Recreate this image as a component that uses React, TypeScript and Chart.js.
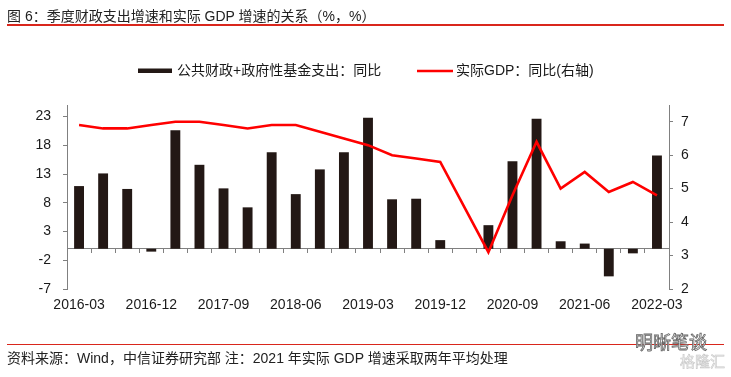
import React, { useEffect, useRef } from "react";
import { Chart, registerables } from "chart.js";

Chart.register(...registerables);

// ---- data ----
const quarters = [
  "2016-03", "2016-06", "2016-09", "2016-12",
  "2017-03", "2017-06", "2017-09", "2017-12",
  "2018-03", "2018-06", "2018-09", "2018-12",
  "2019-03", "2019-06", "2019-09", "2019-12",
  "2020-03", "2020-06", "2020-09", "2020-12",
  "2021-03", "2021-06", "2021-09", "2021-12",
  "2022-03",
];
const spendingYoY = [
  10.9, 13.1, 10.4, -0.5,
  20.6, 14.6, 10.5, 7.2,
  16.8, 9.5, 13.8, 16.8,
  22.8, 8.6, 8.7, 1.5,
  null, 4.1, 15.2, 22.6,
  1.3, 0.9, -4.8, -0.8,
  16.2,
];
const gdpYoY = [
  6.9, 6.8, 6.8, 6.9,
  7.0, 7.0, 6.9, 6.8,
  6.9, 6.9, 6.7, 6.5,
  6.3, 6.0, 5.9, 5.8,
  null, 3.1, 4.8, 6.4,
  5.0, 5.5, 4.9, 5.2,
  4.8,
];
const leftTicks = [-7, -2, 3, 8, 13, 18, 23];
const rightTicks = [2, 3, 4, 5, 6, 7];
const seriesNames = ["公共财政+政府性基金支出：同比", "实际GDP：同比(右轴)"];
const titleText = "图 6：季度财政支出增速和实际 GDP 增速的关系（%，%）";
const sourceText = "资料来源：Wind，中信证券研究部 注：2021 年实际 GDP 增速采取两年平均处理";

// ---- styles ----
const FONT = "'Liberation Sans', 'Noto Sans CJK SC', sans-serif";
const barColor = "#231815";
const lineColor = "#ff0000";
const axisColor = "#808080";
const textColor = "#1a1a1a";
const ruleColor = "#d9261c";

const legendPlugin = {
  id: "customLegend",
  afterDraw(chart: any) {
    const ctx = chart.ctx;
    ctx.save();
    ctx.fillStyle = barColor;
    ctx.fillRect(138, 68.5, 34, 4.5);
    ctx.font = `14px ${FONT}`;
    ctx.fillStyle = textColor;
    ctx.textBaseline = "middle";
    ctx.textAlign = "left";
    ctx.fillText(seriesNames[0], 177, 71);
    ctx.strokeStyle = lineColor;
    ctx.lineWidth = 2.5;
    ctx.beginPath();
    ctx.moveTo(417, 71);
    ctx.lineTo(453, 71);
    ctx.stroke();
    ctx.fillText(seriesNames[1], 456, 71);
    ctx.restore();
  },
};

export default function App() {
  const canvasRef = useRef<HTMLCanvasElement | null>(null);

  useEffect(() => {
    if (!canvasRef.current) return;
    const tickFont = { family: FONT, size: 14 };
    const chart = new Chart(canvasRef.current, {
      type: "bar",
      data: {
        labels: quarters,
        datasets: [
          {
            type: "bar",
            label: seriesNames[0],
            data: spendingYoY as any,
            backgroundColor: barColor,
            borderWidth: 0,
            barPercentage: 0.41,
            categoryPercentage: 1,
            yAxisID: "y",
            xAxisID: "x",
            order: 2,
          },
          {
            type: "line",
            label: seriesNames[1],
            data: gdpYoY as any,
            borderColor: lineColor,
            backgroundColor: lineColor,
            borderWidth: 2.6,
            pointRadius: 0,
            tension: 0,
            spanGaps: true,
            yAxisID: "y1",
            xAxisID: "x",
            order: 1,
          },
        ],
      },
      options: {
        responsive: false,
        animation: false,
        devicePixelRatio: 1,
        layout: { padding: { top: 105, left: 0, right: 0, bottom: 0 } },
        plugins: {
          legend: { display: false },
          tooltip: { enabled: false },
          title: { display: false },
        },
        scales: {
          x: {
            type: "category",
            position: "bottom",
            offset: true,
            grid: { display: false, drawTicks: false },
            border: { display: false },
            ticks: {
              autoSkip: false,
              maxRotation: 0,
              minRotation: 0,
              padding: 8,
              color: textColor,
              font: tickFont,
              callback: (_v: any, i: number) => (i % 3 === 0 ? quarters[i] : ""),
            },
            afterFit: (s: any) => {
              s.height = 88;
            },
          },
          xZero: {
            type: "category",
            axis: "x",
            position: { y: 0 } as any,
            offset: true,
            z: 1,
            grid: {
              offset: true,
              drawOnChartArea: false,
              drawTicks: true,
              tickLength: 4,
              color: axisColor,
              lineWidth: 1,
            },
            border: { display: true, color: axisColor, width: 1 },
            ticks: { display: false },
          } as any,
          y: {
            position: "left",
            min: -7,
            max: 25,
            afterBuildTicks: (s: any) => {
              s.ticks = leftTicks.map((v) => ({ value: v }));
            },
            grid: { drawOnChartArea: false, drawTicks: true, tickLength: 4, color: axisColor },
            border: { display: true, color: axisColor, width: 1 },
            ticks: { padding: 12, color: textColor, font: tickFont },
            afterFit: (s: any) => {
              s.width = 67;
            },
          },
          y1: {
            position: "right",
            min: 2,
            max: 7.5,
            afterBuildTicks: (s: any) => {
              s.ticks = rightTicks.map((v) => ({ value: v }));
            },
            grid: { drawOnChartArea: false, drawTicks: true, tickLength: 4, color: axisColor },
            border: { display: true, color: axisColor, width: 1 },
            ticks: { padding: 8, color: textColor, font: tickFont },
            afterFit: (s: any) => {
              s.width = 62;
            },
          },
        },
      } as any,
      plugins: [legendPlugin],
    });
    return () => chart.destroy();
  }, []);

  return (
    <div
      style={{
        position: "absolute",
        left: 0,
        top: 0,
        width: 731,
        height: 377,
        background: "#fff",
        fontFamily: FONT,
        overflow: "hidden",
      }}
    >
      <canvas
        ref={canvasRef}
        width={731}
        height={377}
        style={{ position: "absolute", left: 0, top: 0, width: 731, height: 377 }}
      />
      <div
        style={{
          position: "absolute",
          left: 7,
          top: 6,
          fontSize: 14,
          lineHeight: "20px",
          color: "#222",
          whiteSpace: "nowrap",
        }}
      >
        {titleText}
      </div>
      <div style={{ position: "absolute", left: 7, top: 24, width: 717, height: 1.6, background: ruleColor }} />
      <div style={{ position: "absolute", left: 7, top: 343.5, width: 717, height: 1.6, background: ruleColor }} />
      <div
        style={{
          position: "absolute",
          left: 7,
          top: 348,
          fontSize: 14,
          lineHeight: "20px",
          color: "#222",
          whiteSpace: "nowrap",
        }}
      >
        {sourceText}
      </div>
      <div
        style={{
          position: "absolute",
          left: 635,
          top: 332,
          fontSize: 18,
          lineHeight: "22px",
          color: "#fff",
          WebkitTextStroke: "0.8px #666",
          whiteSpace: "nowrap",
        }}
      >
        明晰笔谈
      </div>
      <div
        style={{
          position: "absolute",
          left: 680,
          top: 352,
          fontSize: 15,
          lineHeight: "20px",
          color: "#f4f4f4",
          WebkitTextStroke: "0.6px #c8c8c8",
          whiteSpace: "nowrap",
        }}
      >
        格隆汇
      </div>
    </div>
  );
}
